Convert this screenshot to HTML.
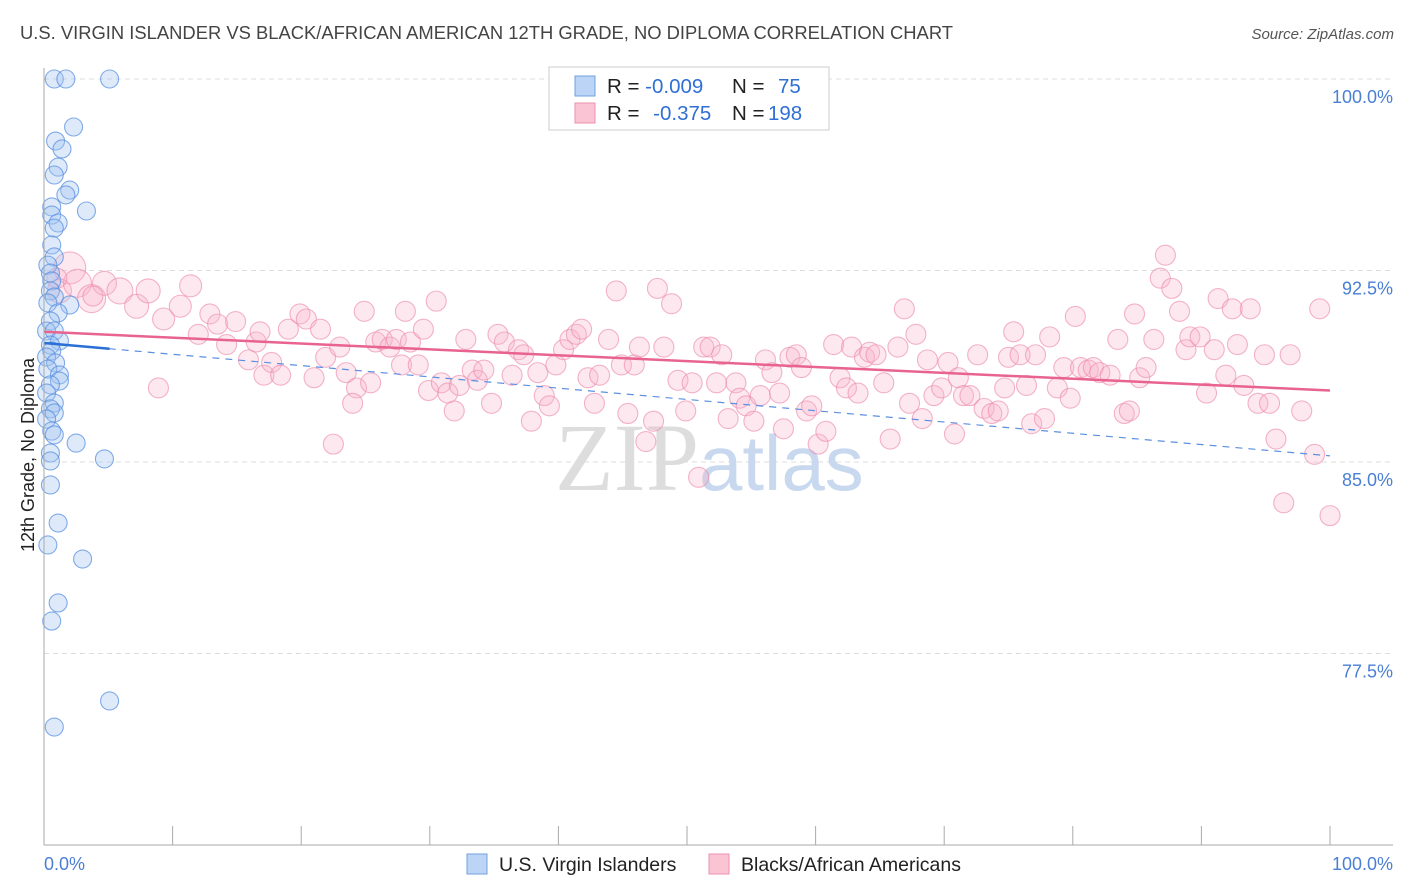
<!DOCTYPE html>
<html><head><meta charset="utf-8"><style>
body{margin:0;background:#fff;font-family:"Liberation Sans",sans-serif}
svg{display:block}
</style></head><body>
<svg id="chart" width="1406" height="892" xmlns="http://www.w3.org/2000/svg" font-family="Liberation Sans, sans-serif">
<text x="20" y="39" font-size="18.3" fill="#444" textLength="933" lengthAdjust="spacingAndGlyphs">U.S. VIRGIN ISLANDER VS BLACK/AFRICAN AMERICAN 12TH GRADE, NO DIPLOMA CORRELATION CHART</text>
<text x="1394" y="39" font-size="15" fill="#555" text-anchor="end" font-style="italic">Source: ZipAtlas.com</text>
<g id="grid"></g>
<text x="555" y="490" font-size="96" fill="#ddd" font-family="Liberation Serif, serif">ZIP<tspan fill="#c8d8ee" font-family="Liberation Sans, sans-serif" font-size="78">atlas</tspan></text>
<g id="pink"></g>
<g id="blue"></g>
<g id="trends"></g>
<g id="axes"></g>
<text transform="translate(34,455) rotate(-90)" font-size="18" fill="#222" text-anchor="middle">12th Grade, No Diploma</text>
<g>
<rect x="549" y="67" width="280" height="63" fill="#fff" stroke="#ccc"/>
<rect x="575" y="76" width="20" height="20" fill="#bcd4f5" stroke="#6fa0e0"/>
<rect x="575" y="103" width="20" height="20" fill="#fbc4d4" stroke="#ee8fac"/>
<text x="607" y="93" font-size="20.5" fill="#222">R = <tspan fill="#2f6fd6">-0.009</tspan><tspan x="732">N =</tspan><tspan x="778" fill="#2f6fd6">75</tspan></text>
<text x="607" y="120" font-size="20.5" fill="#222">R = <tspan fill="#2f6fd6" dx="8">-0.375</tspan><tspan x="732">N =</tspan><tspan x="768" fill="#2f6fd6">198</tspan></text>
</g>
<g>
<rect x="467" y="854" width="20" height="20" fill="#bcd4f5" stroke="#6fa0e0"/>
<text x="499" y="871" font-size="19.5" fill="#222">U.S. Virgin Islanders</text>
<rect x="709" y="854" width="20" height="20" fill="#fbc4d4" stroke="#ee8fac"/>
<text x="741" y="871" font-size="19.5" fill="#222">Blacks/African Americans</text>
</g>
</svg>
<script>
const yTicks=[100,92.5,85,77.5];
const yTickLabels=["100.0%","92.5%","85.0%","77.5%"];
const blueX=[0.8,1.7,5.1,2.3,0.9,1.4,1.1,0.8,2.0,1.7,3.3,0.6,0.6,1.1,0.8,0.6,0.8,0.3,0.5,0.6,0.5,0.8,0.3,2.0,1.1,0.5,0.2,0.8,1.2,0.5,0.6,0.2,0.9,0.3,1.2,1.2,0.5,0.2,0.8,0.5,0.8,0.2,0.6,0.8,2.5,0.5,4.7,0.5,0.5,1.1,0.3,3.0,1.1,0.6,5.1,0.8];
const blueY=[100,100,100,98.12,97.57,97.26,96.55,96.24,95.65,95.46,94.83,94.99,94.67,94.36,94.16,93.5,93.03,92.71,92.4,92.09,91.7,91.46,91.23,91.15,90.84,90.52,90.13,90.13,89.74,89.58,89.35,89.11,88.88,88.64,88.41,88.17,88.02,87.7,87.31,87.08,86.92,86.68,86.21,86.06,85.74,85.35,85.12,85.04,84.1,82.61,81.75,81.2,79.48,78.77,75.64,74.62];
const pinkX=[2.0,1.2,2.6,3.7,4.7,5.9,7.2,8.1,9.3,10.6,11.4,12.0,12.9,13.5,14.2,14.9,15.9,16.5,17.1,16.8,17.7,18.4,19.0,19.9,20.4,21.0,21.5,21.9,22.5,23.0,23.5,24.3,24.0,24.9,25.4,25.8,26.3,26.9,27.4,27.8,28.1,28.5,29.1,29.5,29.9,30.5,30.9,31.4,31.9,32.3,32.8,33.3,33.7,34.2,34.8,35.3,35.8,36.4,36.9,37.3,37.9,38.4,38.9,39.3,39.8,40.4,40.9,41.4,41.8,42.3,42.8,43.2,43.9,44.5,44.9,45.4,45.9,46.3,46.8,47.4,47.7,48.2,48.8,49.3,49.9,50.4,50.9,51.3,51.8,52.3,52.7,53.2,53.8,54.1,54.6,55.2,55.7,56.1,56.6,57.2,57.5,58.0,58.5,58.9,59.3,59.7,60.2,60.8,61.4,61.9,62.4,62.8,63.3,63.8,64.2,64.7,65.3,65.8,66.4,66.9,67.3,67.8,68.3,68.7,69.2,69.8,70.3,70.8,71.1,71.5,72.0,72.6,73.1,73.7,74.2,74.7,75.0,75.4,75.9,76.4,76.8,77.1,77.8,78.2,78.8,79.3,79.8,80.2,80.6,81.2,81.6,82.1,82.9,83.5,84.0,84.4,84.8,85.2,85.7,86.3,86.8,87.2,87.7,88.3,88.8,89.1,89.9,90.4,91.0,91.3,91.9,92.4,92.8,93.3,93.8,94.4,94.9,95.3,95.8,96.4,96.9,97.8,98.8,99.2,100,8.9,3.8,1.0];
const pinkY=[92.6,91.7,92.0,91.4,92.0,91.7,91.1,91.7,90.6,91.1,91.9,90.0,90.8,90.4,89.6,90.5,89.0,89.7,88.4,90.1,88.9,88.4,90.2,90.8,90.6,88.3,90.2,89.1,85.7,89.5,88.5,87.9,87.3,90.9,88.1,89.7,89.8,89.5,89.8,88.8,90.9,89.7,88.8,90.2,87.8,91.3,88.1,87.7,87.0,88.0,89.8,88.6,88.2,88.6,87.3,90.0,89.7,88.4,89.4,89.2,86.6,88.5,87.6,87.2,88.8,89.4,89.8,90.0,90.2,88.3,87.3,88.4,89.8,91.7,88.8,86.9,88.8,89.5,85.8,86.6,91.8,89.5,91.2,88.2,87.0,88.1,84.4,89.5,89.5,88.1,89.2,86.7,88.1,87.5,87.2,86.6,87.6,89.0,88.5,87.7,86.3,89.1,89.2,88.7,87.0,87.2,85.7,86.2,89.6,88.3,87.9,89.5,87.7,89.1,89.3,89.2,88.1,85.9,89.5,91.0,87.3,90.0,86.7,89.0,87.6,87.9,88.9,86.1,88.3,87.6,87.6,89.2,87.1,86.9,87.0,87.9,89.1,90.1,89.2,88.0,86.5,89.2,86.7,89.9,87.9,88.7,87.5,90.7,88.7,88.6,88.7,88.5,88.4,89.8,86.9,87.0,90.8,88.3,88.7,89.8,92.2,93.1,91.8,90.9,89.4,89.9,89.9,87.7,89.4,91.4,88.4,91.0,89.6,88.0,91.0,87.3,89.2,87.3,85.9,83.4,89.2,87.0,85.3,91.0,82.9,87.9,91.5,92.2];
const pinkR=[16,12,14,14,12,13,12,12,11,11,11,10,10,10,10,10,10,10,10,10];
const pinkTrend=[90.1,87.8];
const blueTrend=[89.66,85.24];
const blueSolidEnd=5.1;
const xTickLabels=["0.0%","100.0%"];

const NS="http://www.w3.org/2000/svg";
const X=p=>44+p*12.86;
const Y=v=>79+(100-v)*25.533;
function mk(tag,attrs,parent){const e=document.createElementNS(NS,tag);for(const k in attrs)e.setAttribute(k,attrs[k]);parent.appendChild(e);return e;}
const grid=document.getElementById('grid'),axes=document.getElementById('axes');
yTicks.forEach((t,i)=>{
  const l=mk('line',{x1:44,x2:1393,y1:Y(t),y2:Y(t),stroke:'#ddd','stroke-dasharray':'5,4'},grid);
  
  
  const tx=mk('text',{x:1393,y:Y(t)+24,'font-size':18,fill:'#4a7fd4','text-anchor':'end'},axes);
  tx.textContent=yTickLabels[i];
  
  
});
const ax=mk('line',{x1:44,x2:44,y1:68,y2:845,stroke:'#aaa'},axes);


const bx=mk('line',{x1:44,x2:1393,y1:845,y2:845,stroke:'#aaa'},axes);


for(let i=1;i<=10;i++){
  const t=mk('line',{x1:X(i*10),x2:X(i*10),y1:826,y2:845,stroke:'#aaa'},axes);
  
  
}
[[0,'start'],[100,'end']].forEach((d,i)=>{
  const t=mk('text',{x:i?1393:44,y:870,'font-size':18,fill:'#4a7fd4','text-anchor':d[1]},axes);
  t.textContent=xTickLabels[i];
  
  
});
const pink=document.getElementById('pink');
pinkX.forEach((x,i)=>{
  const c=mk('circle',{cx:X(x),cy:Y(pinkY[i]),r:pinkR[i]||10,fill:'rgba(248,180,202,0.3)',stroke:'rgba(236,140,172,0.65)','stroke-width':1.1},pink);
  
  
});
const blue=document.getElementById('blue');
blueX.forEach((x,i)=>{
  const c=mk('circle',{cx:X(x),cy:Y(blueY[i]),r:9,fill:'rgba(160,196,242,0.35)',stroke:'rgba(80,138,222,0.7)','stroke-width':1.1},blue);
  
  
});
const tr=document.getElementById('trends');
const bv=v=>blueTrend[0]+(blueTrend[1]-blueTrend[0])*v/100;
const l1=mk('line',{x1:X(0),y1:Y(bv(0)),x2:X(100),y2:Y(bv(100)),stroke:'#5b8fe0','stroke-width':1.2,'stroke-dasharray':'7,6'},tr);


const l2=mk('line',{x1:X(0),y1:Y(bv(0)),x2:X(blueSolidEnd),y2:Y(bv(blueSolidEnd)),stroke:'#2a6fd6','stroke-width':2.5},tr);


const l3=mk('line',{x1:X(0),y1:Y(pinkTrend[0]),x2:X(100),y2:Y(pinkTrend[1]),stroke:'#e8638f','stroke-width':2.5},tr);


</script>
</body></html>
